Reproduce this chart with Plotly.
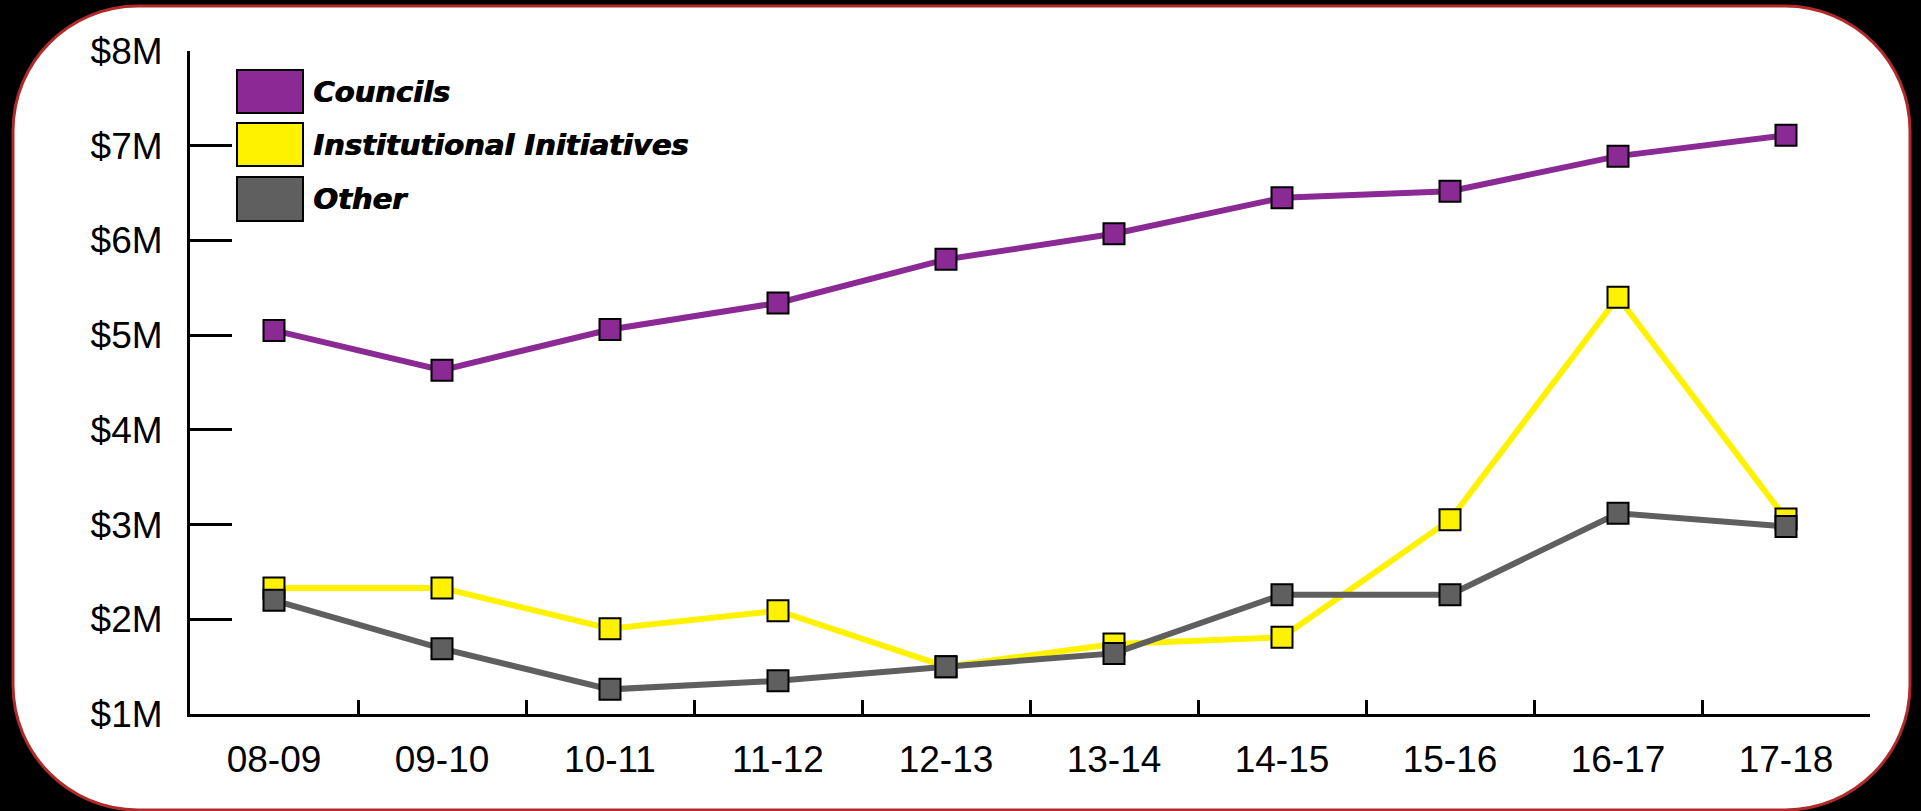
import plotly.graph_objects as go

years = ["08-09", "09-10", "10-11", "11-12", "12-13", "13-14", "14-15", "15-16", "16-17", "17-18"]
councils = [5.05, 4.63, 5.06, 5.34, 5.80, 6.07, 6.45, 6.52, 6.89, 7.11]
institutional = [2.33, 2.33, 1.90, 2.09, 1.50, 1.74, 1.81, 3.05, 5.40, 3.06]
other = [2.20, 1.69, 1.26, 1.35, 1.50, 1.64, 2.26, 2.26, 3.12, 2.98]

series_names = ["Councils", "Institutional Initiatives", "Other"]
series_colors = ["#8B2A95", "#FFF200", "#5F5F5F"]
y_ticks = [1, 2, 3, 4, 5, 6, 7, 8]
boundaries = [0.5, 1.5, 2.5, 3.5, 4.5, 5.5, 6.5, 7.5, 8.5]

W, H = 1921, 811
L, R, T, B = 190, 51, 51, 97
PW = W - L - R
PH = H - T - B


def px(X):
    return (X - L) / PW


def py(Y):
    return (H - B - Y) / PH


fig = go.Figure()
for name, vals, col in zip(series_names, [councils, institutional, other], series_colors):
    fig.add_trace(go.Scatter(
        x=years, y=vals, name=name, mode="lines+markers",
        line=dict(color=col, width=6),
        marker=dict(symbol="square", size=21, color=col, line=dict(color="black", width=2)),
        showlegend=False,
    ))

# invisible trace for boundary tick axis
fig.add_trace(go.Scatter(x=[0], y=[None], xaxis="x2", yaxis="y", showlegend=False, hoverinfo="skip"))

# rounded white panel
x0, y0, x1, y1, r = 13, 6, 1910, 810, 125
k = 0.5523 * r
path = (
    f"M {px(x0 + r)},{py(y0)} L {px(x1 - r)},{py(y0)} "
    f"C {px(x1 - r + k)},{py(y0)} {px(x1)},{py(y0 + r - k)} {px(x1)},{py(y0 + r)} "
    f"L {px(x1)},{py(y1 - r)} "
    f"C {px(x1)},{py(y1 - r + k)} {px(x1 - r + k)},{py(y1)} {px(x1 - r)},{py(y1)} "
    f"L {px(x0 + r)},{py(y1)} "
    f"C {px(x0 + r - k)},{py(y1)} {px(x0)},{py(y1 - r + k)} {px(x0)},{py(y1 - r)} "
    f"L {px(x0)},{py(y0 + r)} "
    f"C {px(x0)},{py(y0 + r - k)} {px(x0 + r - k)},{py(y0)} {px(x0 + r)},{py(y0)} Z"
)
shapes = [dict(type="path", xref="paper", yref="paper", path=path,
               fillcolor="white", line=dict(color="#B02A2A", width=3), layer="below")]

annotations = []
legend_rows = [(70, 113), (123, 166), (177, 221)]
for (ya, yb), name, col in zip(legend_rows, series_names, series_colors):
    shapes.append(dict(type="rect", xref="paper", yref="paper",
                       x0=px(237), x1=px(303), y0=py(yb), y1=py(ya),
                       fillcolor=col, line=dict(color="black", width=2), layer="above"))
    annotations.append(dict(xref="paper", yref="paper", x=px(311), y=py((ya + yb) / 2),
                            xanchor="left", yanchor="middle", showarrow=False,
                            text=f"<b><i>{name}</i></b>",
                            font=dict(family="DejaVu Sans", size=29, color="black",
                                      shadow="1px 0px 0px black")))

fig.update_layout(
    width=W, height=H,
    margin=dict(l=L, r=R, t=T, b=B, pad=0),
    paper_bgcolor="black",
    plot_bgcolor="rgba(0,0,0,0)",
    font=dict(family="Liberation Sans, Arial, sans-serif", size=37, color="black"),
    shapes=shapes,
    annotations=annotations,
    xaxis=dict(type="category", range=[-0.5, 9.5], showgrid=False, zeroline=False,
               showline=True, linecolor="black", linewidth=3, ticks="",
               tickfont=dict(size=37), ticklabelstandoff=11),
    xaxis2=dict(overlaying="x", anchor="y", range=[-0.5, 9.5], showgrid=False, zeroline=False,
                showline=False, tickvals=boundaries, ticks="inside", ticklen=14, tickwidth=3,
                tickcolor="black", showticklabels=False, side="bottom"),
    yaxis=dict(range=[1, 8], tickvals=y_ticks, ticktext=[f"${v}M" for v in y_ticks],
               showgrid=False, zeroline=False, showline=True, linecolor="black", linewidth=3,
               ticks="inside", ticklen=42, tickwidth=3, tickcolor="black",
               tickfont=dict(size=37), ticklabelstandoff=17),
)

fig.write_html("out.html")
